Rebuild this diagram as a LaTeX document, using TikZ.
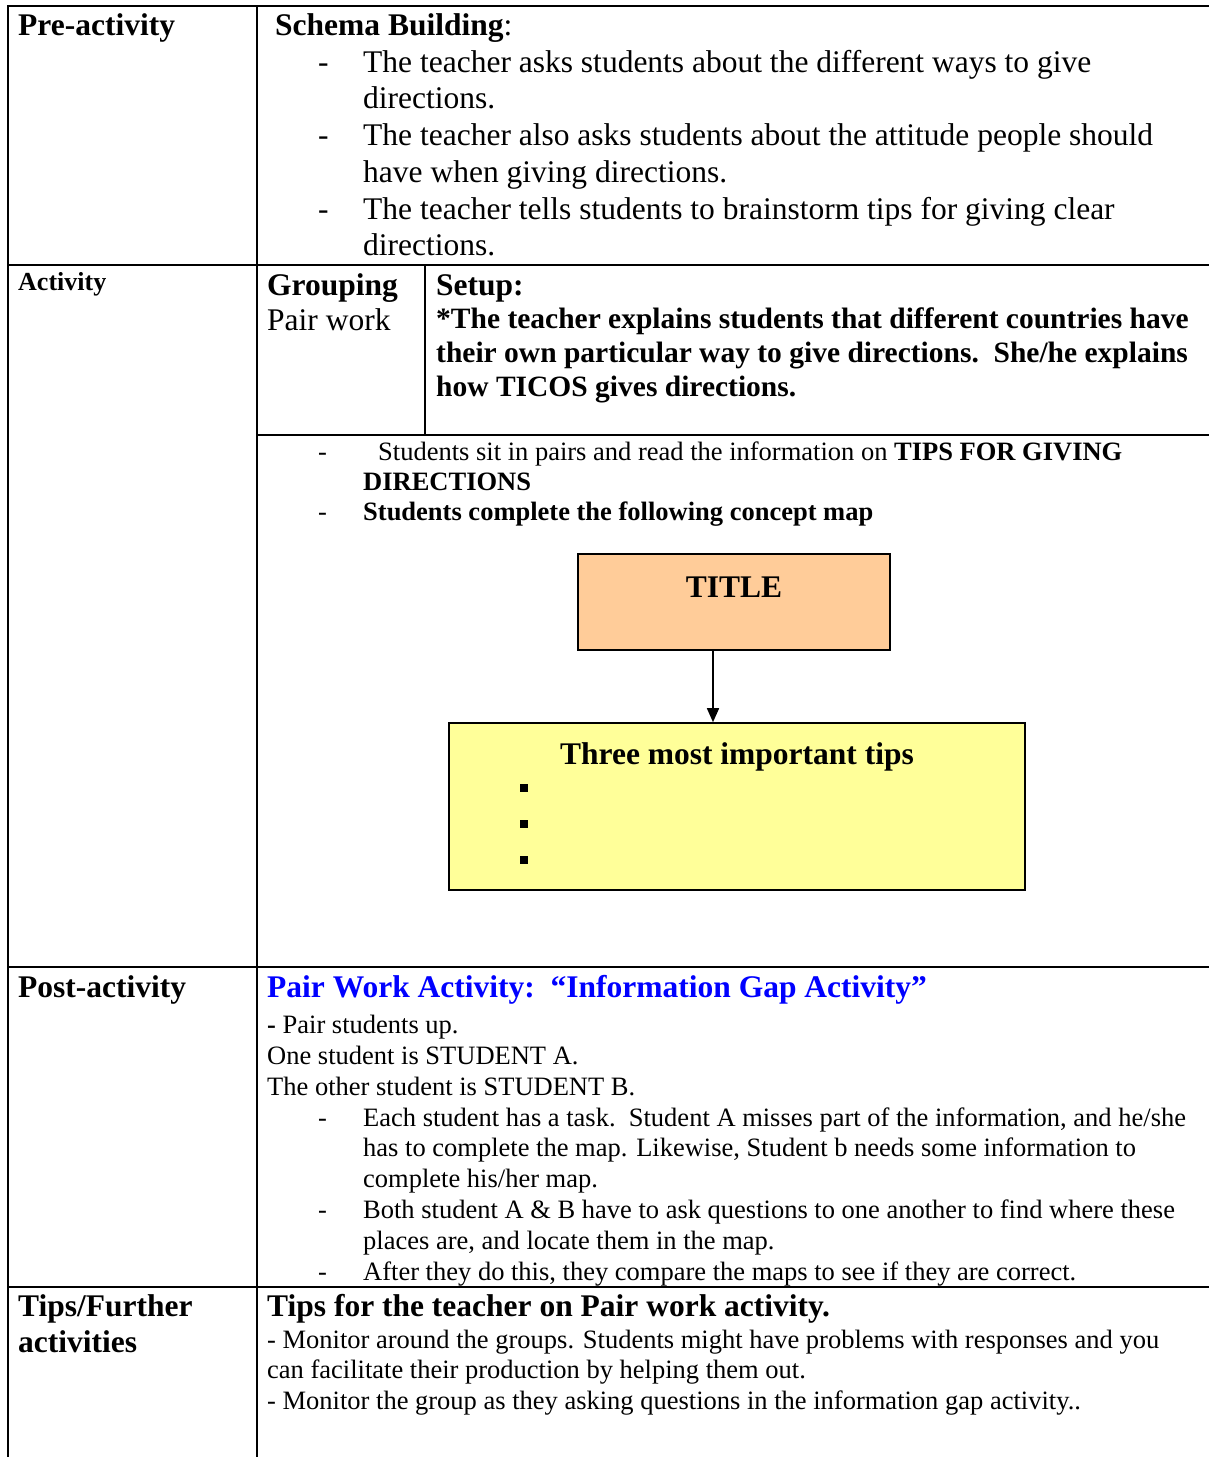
\documentclass[tikz,border=0pt]{standalone}
\usepackage{fontspec}
\setmainfont{Liberation Serif}
\usetikzlibrary{arrows.meta}
\definecolor{titleorange}{RGB}{255,204,153}
\definecolor{tipsyellow}{RGB}{255,255,153}
\definecolor{headblue}{RGB}{0,0,255}
\newcommand{\fbig}{\fontsize{31.5}{37}\selectfont}
\newcommand{\fmid}{\fontsize{29.5}{34}\selectfont}
\newcommand{\fsmall}{\fontsize{26.5}{31}\selectfont}
\newcommand{\flabel}{\fontsize{26}{30}\selectfont}

\begin{document}
\begin{tikzpicture}[x=1pt,y=-1pt,
        lbl/.style={anchor=base west, inner sep=0pt},
        grid/.style={line width=2pt},
        mapbox/.style={draw, line width=1.6pt, inner sep=0pt}]
    \useasboundingbox (0,0) rectangle (1209,1457);
        % The table lines.
            \draw[grid] (8,1457) -- (8,6) -- (1209,6);
            \draw[grid] (257,6) -- (257,1457);
            \draw[grid] (8,265) -- (1209,265);
            \draw[grid] (8,967) -- (1209,967);
            \draw[grid] (8,1287) -- (1209,1287);
            \draw[grid] (425,265) -- (425,435);
            \draw[grid] (257,435) -- (1209,435);
        % Left column.
            \node[lbl] (pre) at (18,35) {\fbig\bfseries Pre-activity};
            \node[lbl] (act) at (18,290) {\flabel\bfseries Activity};
            \node[lbl] (post) at (18,997) {\fbig\bfseries Post-activity};
            \node[lbl] (tipsa) at (18,1316) {\fbig\bfseries Tips/Further};
            \node[lbl] (tipsb) at (18,1352) {\fbig\bfseries activities};
        % Pre-activity row.
            \node[lbl] (schema) at (275,35) {\fbig\textbf{Schema Building}:};
            \node[lbl] (da) at (318,72) {\fbig -};
            \node[lbl] (pa1) at (363,72) {\fbig The teacher asks students about the different ways to give};
            \node[lbl] (pa2) at (363,108) {\fbig directions.};
            \node[lbl] (db) at (318,145) {\fbig -};
            \node[lbl] (pb1) at (363,145) {\fbig The teacher also asks students about the attitude people should};
            \node[lbl] (pb2) at (363,182) {\fbig have when giving directions.};
            \node[lbl] (dc) at (318,219) {\fbig -};
            \node[lbl] (pc1) at (363,219) {\fbig The teacher tells students to brainstorm tips for giving clear};
            \node[lbl] (pc2) at (363,255) {\fbig directions.};
        % Activity row.
            \node[lbl] (grp) at (267,295) {\fbig\bfseries Grouping};
            \node[lbl] (pair) at (267,330) {\fbig Pair work};
            \node[lbl] (setup) at (436,295) {\fbig\bfseries Setup:};
            \node[lbl] (su1) at (436,328) {\fmid\bfseries *The teacher explains students that different countries have};
            \node[lbl] (su2) at (436,362) {\fmid\bfseries their own particular way to give directions.\ \ She/he explains};
            \node[lbl] (su3) at (436,396) {\fmid\bfseries how TICOS gives directions.};
            \node[lbl] (dd) at (318,460) {\fsmall -};
            \node[lbl] (st1) at (378,460) {\fsmall Students sit in pairs and read the information on \textbf{TIPS FOR GIVING}};
            \node[lbl] (st2) at (363,490) {\fsmall\bfseries DIRECTIONS};
            \node[lbl] (de) at (318,520) {\fsmall -};
            \node[lbl] (st3) at (363,520) {\fsmall\bfseries Students complete the following concept map};
        % The concept map.
            \node[mapbox, fill=titleorange, minimum width=312pt, minimum height=96pt] (title) at (734,602) {};
            \node[lbl, anchor=base] (titletxt) at (734,597) {\fbig\bfseries TITLE};
            \node[mapbox, fill=tipsyellow, minimum width=576pt, minimum height=167pt] (tips) at (737,806.5) {};
            \node[lbl, anchor=base] (tipstxt) at (737,764) {\fbig\bfseries Three most important tips};
            \foreach \y/\n in {788/1,824/2,860/3}
                \node[fill=black, inner sep=0pt, minimum size=8pt] (sq\n) at (524,\y) {};
            \coordinate (arrowx) at (713,0);
            \draw[line width=1.6pt, -{Triangle[length=14pt,width=12pt]}] (title.south -| arrowx) -- (tips.north -| arrowx);
        % Post-activity row.
            \node[lbl] (gap) at (267,997) {\fbig\bfseries\color{headblue}Pair Work Activity:\ \ ``Information Gap Activity''};
            \node[lbl] (po1) at (267,1033) {\fsmall\textbf{-} Pair students up.};
            \node[lbl] (po2) at (267,1064) {\fsmall One student is STUDENT A.};
            \node[lbl] (po3) at (267,1095) {\fsmall The other student is STUDENT B.};
            \node[lbl] (df) at (318,1126) {\fsmall -};
            \node[lbl] (pe1) at (363,1126) {\fsmall Each student has a task.\ \ Student A misses part of the information, and he/she};
            \node[lbl] (pe2) at (363,1156) {\fsmall has to complete the map. Likewise, Student b needs some information to};
            \node[lbl] (pe3) at (363,1187) {\fsmall complete his/her map.};
            \node[lbl] (dg) at (318,1218) {\fsmall -};
            \node[lbl] (pf1) at (363,1218) {\fsmall Both student A \& B have to ask questions to one another to find where these};
            \node[lbl] (pf2) at (363,1249) {\fsmall places are, and locate them in the map.};
            \node[lbl] (dh) at (318,1280) {\fsmall -};
            \node[lbl] (pg1) at (363,1280) {\fsmall After they do this, they compare the maps to see if they are correct.};
        % Tips row.
            \node[lbl] (teach) at (267,1316) {\fbig\bfseries Tips for the teacher on Pair work activity.};
            \node[lbl] (tp1) at (267,1348) {\fsmall - Monitor around the groups. Students might have problems with responses and you};
            \node[lbl] (tp2) at (267,1378) {\fsmall can facilitate their production by helping them out.};
            \node[lbl] (tp3) at (267,1409) {\fsmall - Monitor the group as they asking questions in the information gap activity..};
\end{tikzpicture}
\end{document}
